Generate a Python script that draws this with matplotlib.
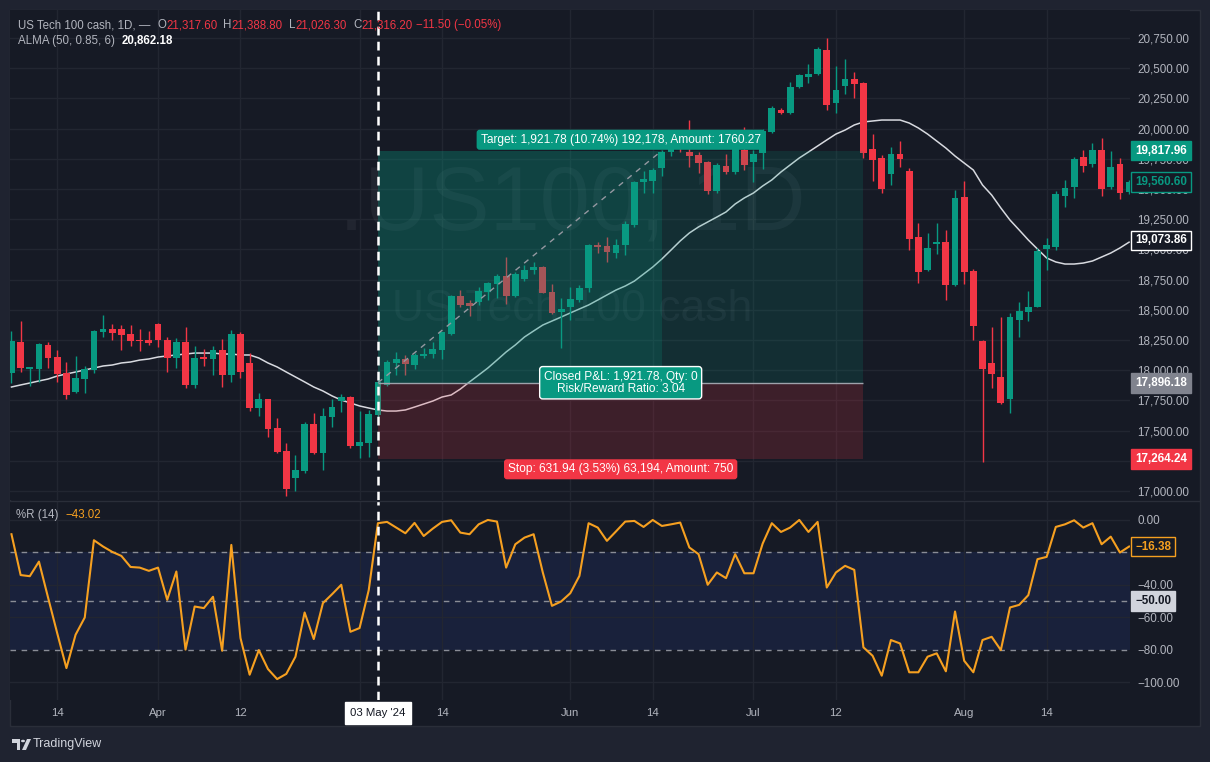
import numpy as np
import matplotlib
matplotlib.use('Agg')
import matplotlib.pyplot as plt
from matplotlib.patches import Rectangle, Polygon, Circle
from matplotlib.lines import Line2D
import matplotlib.transforms as mtransforms

plt.rcParams['font.family'] = ['Liberation Sans', 'DejaVu Sans']

# ---------------- data ----------------
opens = [17977, 18233, 18010, 18010, 18208, 18109, 17977, 17820, 17927, 18002,
         18316, 18341, 18341, 18300, 18250, 18250, 18383, 18250, 18101, 18233,
         17877, 18109, 18093, 18167, 17960, 18300, 18060, 17687, 17762, 17522,
         17331, 17108, 17166, 17555, 17315, 17613, 17745, 17778, 17372, 17397,
         17629, 17877, 18060, 18093, 18043, 18118, 18134, 18167, 18300, 18614,
         18556, 18565, 18647, 18714, 18780, 18614, 18755, 18830, 18854, 18647,
         18482, 18523, 18581, 18680, 19036, 19028, 18970, 19036, 19202, 19558,
         19566, 19674, 19806, 19906, 19806, 19781, 19724, 19483, 19690, 19641,
         19823, 19724, 19798, 19972, 20154, 20129, 20344, 20427, 20452, 20651,
         20212, 20353, 20411, 20378, 19831, 19757, 19624, 19790, 19649, 19103,
         18830, 19045, 19061, 18705, 19434, 18821, 18242, 18060, 17944, 17762,
         18416, 18482, 18523, 19003, 19020, 19442, 19517, 19765, 19707, 19823,
         19517, 19707, 19475]
highs = [18325, 18408, 18030, 18225, 18233, 18167, 18068, 18118, 18035, 18333,
         18457, 18383, 18374, 18374, 18341, 18325, 18390, 18275, 18267, 18358,
         18200, 18175, 18200, 18258, 18333, 18316, 18143, 17811, 17765, 17604,
         17397, 17298, 17571, 17646, 17687, 17762, 17803, 17786, 17662, 17670,
         17919, 18084, 18151, 18126, 18143, 18184, 18233, 18320, 18620, 18664,
         18581, 18689, 18730, 18797, 18937, 18813, 18871, 18896, 18860, 18714,
         18598, 18689, 18705, 19045, 19061, 19102, 19086, 19235, 19566, 19649,
         19674, 19823, 19939, 19939, 20071, 19806, 19730, 19715, 19790, 19906,
         20013, 19823, 19996, 20187, 20170, 20386, 20452, 20535, 20675, 20750,
         20518, 20576, 20469, 20386, 19955, 19781, 19848, 19897, 19674, 19219,
         19136, 19219, 19161, 19492, 19566, 18838, 18250, 18358, 18441, 18474,
         18565, 18656, 19011, 19094, 19483, 19575, 19765, 19823, 19881, 19922,
         19815, 19757, 19575]
lows = [17894, 17985, 17869, 17902, 18019, 17902, 17762, 17811, 17811, 17977,
        18275, 18250, 18167, 18201, 18159, 18208, 18192, 17985, 18019, 17853,
        17853, 18035, 17960, 17861, 17902, 17935, 17662, 17621, 17447, 17315,
        16959, 17000, 17149, 17306, 17174, 17530, 17654, 17356, 17273, 17281,
        17613, 17870, 17960, 17960, 18010, 18101, 18101, 18093, 18292, 18523,
        18449, 18540, 18581, 18598, 18548, 18606, 18738, 18797, 18635, 18466,
        18184, 18416, 18565, 18647, 18970, 18896, 18929, 18953, 19186, 19467,
        19467, 19608, 19773, 19806, 19682, 19633, 19459, 19467, 19624, 19624,
        19657, 19558, 19666, 19964, 20121, 20121, 20336, 20378, 20444, 20154,
        20129, 20286, 20253, 19757, 19566, 19467, 19533, 19682, 18995, 18722,
        18825, 18962, 18581, 18700, 18714, 18250, 17240, 17853, 17720, 17646,
        18275, 18408, 18520, 18830, 18995, 19351, 19426, 19641, 19682, 19442,
        19500, 19417, 19459]
closes = [18242, 18019, 18025, 18217, 18101, 17969, 17795, 17936, 18010, 18325,
          18341, 18308, 18292, 18242, 18242, 18225, 18250, 18101, 18233, 17877,
          18101, 18093, 18167, 17960, 18300, 17985, 17687, 17762, 17513, 17323,
          17017, 17174, 17555, 17315, 17621, 17695, 17778, 17372, 17406, 17637,
          17902, 18068, 18093, 18051, 18126, 18134, 18175, 18316, 18614, 18540,
          18531, 18656, 18722, 18780, 18614, 18797, 18830, 18854, 18639, 18474,
          18507, 18590, 18680, 19036, 19020, 18978, 19036, 19210, 19558, 19583,
          19657, 19806, 19906, 19839, 19773, 19715, 19483, 19699, 19641, 19889,
          19699, 19790, 19980, 20170, 20129, 20344, 20444, 20452, 20659, 20195,
          20320, 20411, 20369, 19798, 19740, 19500, 19790, 19748, 19086, 18813,
          19012, 19061, 18705, 19425, 18813, 18366, 18010, 17969, 17729, 18441,
          18490, 18523, 18987, 19036, 19459, 19508, 19749, 19690, 19823, 19500,
          19682, 19467, 19560]
alma = [17861, 17878, 17894, 17911, 17927, 17952, 17969, 17985, 18002, 18018,
        18035, 18043, 18060, 18068, 18084, 18093, 18109, 18118, 18126, 18134,
        18142, 18142, 18142, 18134, 18134, 18126, 18126, 18101, 18060, 18027,
        17985, 17944, 17903, 17861, 17828, 17787, 17753, 17729, 17704, 17687,
        17671, 17662, 17662, 17671, 17695, 17720, 17745, 17778, 17795, 17844,
        17903, 17960, 18018, 18084, 18151, 18209, 18275, 18325, 18374, 18407,
        18440, 18474, 18507, 18540, 18581, 18623, 18664, 18697, 18738, 18796,
        18854, 18921, 18995, 19070, 19136, 19186, 19227, 19268, 19310, 19376,
        19426, 19467, 19525, 19575, 19641, 19699, 19757, 19806, 19856, 19906,
        19955, 19988, 20030, 20055, 20063, 20071, 20071, 20071, 20046, 20005,
        19955, 19897, 19839, 19773, 19715, 19657, 19533, 19450, 19343, 19243,
        19161, 19078, 19003, 18929, 18896, 18879, 18879, 18887, 18904, 18937,
        18970, 19012, 19060]
willr = [-8.8, -34, -34.7, -25.7, -48, -70, -91.4, -70.8, -60.2, -12.5,
         -16.4, -19.7, -22.2, -29, -29.4, -31.4, -29.4, -49.3, -31.8, -80,
         -53.4, -54.4, -47.4, -80.7, -15.4, -72.9, -95.5, -80.3, -92, -98.2,
         -95, -84.4, -57.1, -73.5, -51.3, -45.8, -40, -69, -66.7, -43.3,
         -2, -1.2, -4.7, -8.2, -1.8, -9.9, -5.3, -1.2, -0.2, -7.8,
         -8.8, -2.7, 0, -1, -29.4, -15, -10.9, -8.8, -32.4, -53,
         -50.3, -45.2, -34.5, -2, -4.7, -12.9, -7, -1, -0.6, -4.3,
         0, -3.7, -2.7, -1.6, -17, -21.1, -40, -32.4, -35.9, -21.1,
         -32.9, -32.9, -14.6, -2, -7.4, -4.7, 0, -7.4, -1.2, -41.7,
         -32.4, -28.3, -30.8, -78.6, -83.8, -96.1, -74.1, -76.2, -94, -94,
         -84.4, -82.3, -93.4, -56.5, -86.9, -94, -74.1, -72.1, -80.3, -54,
         -52.4, -46.4, -24.2, -22.8, -4.3, -2.7, -0.2, -4.7, -2, -15,
         -10.3, -20.1, -16.4]

tick_idx = [5, 16, 25, 47, 61, 70, 81, 90, 104, 113]
tick_labels = ['14', 'Apr', '12', '14', 'Jun', '14', 'Jul', '12', 'Aug', '14']
grid_idx = [5, 16, 25, 38, 47, 61, 70, 81, 90, 104, 113]
cross_idx = 40
cross_label = "03 May '24"
price_ticks = list(range(17000, 20751, 250))
wr_ticks = [0, -20, -40, -60, -80, -100]
wr_tick_labels = ['0.00', '\u221220.00', '\u221240.00', '\u221260.00', '\u221280.00', '\u2212100.00']

entry_price = 17896.18
target_price = 19817.96
stop_price = 17264.24
pos_start, pos_exit, pos_end = 40, 71, 93

# ---------------- style ----------------
W, H = 1210, 762
BG = '#161a25'
FRAME = '#1f2330'
BORDER = '#2a2e39'
GRID = '#222631'
TXT = '#b2b5be'
UP = '#089981'
DN = '#f23645'
ORANGE = '#f6a020'
WHITE = '#ffffff'


def fx(x):
    return x / W


def fy(y):
    return 1 - y / H


fig = plt.figure(figsize=(W / 100, H / 100), dpi=100)
fig.patch.set_facecolor(FRAME)
fig.patches.append(Rectangle((fx(10), fy(726)), 1190 / W, 716 / H, transform=fig.transFigure,
                             facecolor=BG, edgecolor=BORDER, lw=1, zorder=-5))

ax = fig.add_axes([fx(10), fy(500), 1120 / W, 490 / H])
axr = fig.add_axes([fx(10), fy(700), 1120 / W, 199 / H], sharex=ax)
for a in (ax, axr):
    a.set_facecolor(BG)
    a.set_zorder(1)
    for s in a.spines.values():
        s.set_visible(False)

n = len(opens)
idx = np.arange(n)
o = np.array(opens, float)
h = np.array(highs, float)
l = np.array(lows, float)
c = np.array(closes, float)

ax.set_xlim(-0.16, 122.1)
ax.set_ylim(16925.6, 20981.8)
axr.set_ylim(-111.1, 11.7)

# grids
for p in price_ticks:
    ax.axhline(p, color=GRID, lw=1, zorder=0.5)
for g in grid_idx:
    ax.axvline(g, color=GRID, lw=1, zorder=0.5)
    axr.axvline(g, color=GRID, lw=1, zorder=0.5)
for v in [0, -40, -60, -100]:
    axr.axhline(v, color=GRID, lw=1, zorder=0.5)

# watermark
ax.text(0.502, 0.60, '.US100, 1D', transform=ax.transAxes, ha='center', va='center',
        fontsize=65, color=WHITE, alpha=0.05, zorder=0.6)
ax.text(0.502, 0.388, 'US Tech 100 cash', transform=ax.transAxes, ha='center', va='center',
        fontsize=32, color=WHITE, alpha=0.05, zorder=0.6)

# ALMA
ax.plot(idx, alma, color='#d8dae0', lw=1.1, zorder=1.5)

# candles
cols = np.where(c >= o, UP, DN)
ax.vlines(idx, l, h, colors=cols, lw=1, zorder=2)
body_bottom = np.minimum(o, c)
body_h = np.maximum(np.abs(c - o), 7)
ax.bar(idx, body_h, 0.74, body_bottom, color=cols, linewidth=0, zorder=2.1)

# position tool
ax.add_patch(Rectangle((pos_start, entry_price), pos_end - pos_start, target_price - entry_price,
                       facecolor=UP, alpha=0.16, lw=0, zorder=3))
ax.add_patch(Rectangle((pos_start, entry_price), pos_exit - pos_start, target_price - entry_price,
                       facecolor=UP, alpha=0.2, lw=0, zorder=3.1))
ax.add_patch(Rectangle((pos_start, stop_price), pos_end - pos_start, entry_price - stop_price,
                       facecolor=DN, alpha=0.18, lw=0, zorder=3))
ax.hlines(entry_price, pos_start, pos_end, color='#9ea2ab', lw=1, zorder=3.5)
ax.plot([pos_start, pos_exit], [entry_price, target_price], color='#9598a1', lw=1,
        ls=(0, (4, 4)), zorder=3.5)

mid = (pos_start + pos_end) / 2
LBL = 8.6
ax.annotate('Target: 1,921.78 (10.74%) 192,178, Amount: 1760.27', xy=(mid, target_price),
            xytext=(0, 3.5), textcoords='offset points', ha='center', va='bottom',
            fontsize=LBL, color=WHITE, zorder=6,
            bbox=dict(boxstyle='round,pad=0.28,rounding_size=0.2', fc=UP, ec=UP, lw=1))
ax.annotate('Closed P&L: 1,921.78, Qty: 0\nRisk/Reward Ratio: 3.04', xy=(mid, entry_price),
            xytext=(0, 0), textcoords='offset points', ha='center', va='center',
            multialignment='center', fontsize=LBL, color=WHITE, zorder=6, linespacing=1.0,
            bbox=dict(boxstyle='round,pad=0.35,rounding_size=0.25', fc=UP, ec=WHITE, lw=1))
ax.annotate('Stop: 631.94 (3.53%) 63,194, Amount: 750', xy=(mid, stop_price),
            xytext=(0, -3.0), textcoords='offset points', ha='center', va='top',
            fontsize=LBL, color=WHITE, zorder=6,
            bbox=dict(boxstyle='round,pad=0.28,rounding_size=0.2', fc=DN, ec=DN, lw=1))

# Williams %R pane
axr.axhspan(-80, -20, color='#19213b', lw=0, zorder=0.4)
for v in [-20, -50, -80]:
    axr.axhline(v, color='#8a8d96', lw=1, ls=(0, (4, 4)), zorder=1)
axr.plot(idx, willr, color=ORANGE, lw=1.5, zorder=3)

# crosshair
for a in (ax, axr):
    a.axvline(cross_idx, color=WHITE, lw=1.8, ls=(0, (3.5, 2.5)), zorder=7)

# axes ticks
ax.yaxis.tick_right()
ax.set_yticks(price_ticks)
ax.set_yticklabels(['' if p == 17250 else f'{p:,.2f}' for p in price_ticks])
ax.tick_params(axis='y', length=0, pad=5.5, labelsize=8.4, labelcolor=TXT)
ax.tick_params(axis='x', length=0, labelbottom=False)

axr.yaxis.tick_right()
axr.set_yticks(wr_ticks)
axr.set_yticklabels(wr_tick_labels)
axr.tick_params(axis='y', length=0, pad=5.5, labelsize=8.4, labelcolor=TXT)
axr.set_xticks(tick_idx)
axr.set_xticklabels(tick_labels)
axr.tick_params(axis='x', length=0, pad=6, labelsize=8.2, labelcolor=TXT)


# right-scale tags
def tag(a, val, text, fc, ec, tc):
    tr = mtransforms.blended_transform_factory(a.transAxes, a.transData)
    a.text(1.0 + 5 / 1120, val, text, transform=tr, ha='left', va='center', fontsize=8.4,
           weight='bold', color=tc, clip_on=False, zorder=10,
           bbox=dict(boxstyle='square,pad=0.33', fc=fc, ec=ec, lw=1))


tag(ax, target_price, '19,817.96', UP, UP, WHITE)
tag(ax, closes[-1], '19,560.60', BG, UP, UP)
tag(ax, alma[-1] + 14, '19,073.86', BG, WHITE, WHITE)
tag(ax, entry_price, '17,896.18', '#80838e', '#80838e', WHITE)
tag(ax, stop_price, '17,264.24', DN, DN, WHITE)
tag(axr, willr[-1], '\u221216.38', BG, ORANGE, ORANGE)
tag(axr, -50, '\u221250.00', '#d1d4dc', '#d1d4dc', '#131722')

# crosshair time label
axr.text(cross_idx, -0.065, cross_label,
         transform=mtransforms.blended_transform_factory(axr.transData, axr.transAxes),
         ha='center', va='center', fontsize=8.2, color='#131722', zorder=10, clip_on=False,
         bbox=dict(boxstyle='square,pad=0.5', fc=WHITE, ec=WHITE))

# separators
fig.add_artist(Line2D([fx(10), fx(1200)], [fy(500.5)] * 2, color=BORDER, lw=1,
                      transform=fig.transFigure, zorder=5))

# header texts
renderer = fig.canvas.get_renderer()


def seq_text(x, y, pieces, size):
    for txt, col, wt, gap in pieces:
        t = fig.text(fx(x), fy(y), txt, color=col, fontsize=size, weight=wt, ha='left',
                     va='center', zorder=20)
        bb = t.get_window_extent(renderer=renderer)
        x += bb.width + gap


seq_text(18, 25, [('US Tech 100 cash, 1D, \u2014', TXT, 'normal', 7),
                  ('O', TXT, 'normal', 0), ('21,317.60', DN, 'normal', 6),
                  ('H', TXT, 'normal', 0), ('21,388.80', DN, 'normal', 6),
                  ('L', TXT, 'normal', 0), ('21,026.30', DN, 'normal', 6),
                  ('C', TXT, 'normal', 0), ('21,316.20', DN, 'normal', 4),
                  ('\u221211.50 (\u22120.05%)', DN, 'normal', 0)], 8.3)
seq_text(18, 41, [('ALMA (50, 0.85, 6)', TXT, 'normal', 7),
                  ('20,862.18', WHITE, 'bold', 0)], 8.3)
seq_text(16, 515, [('%R (14)', TXT, 'normal', 7),
                   ('\u221243.02', ORANGE, 'normal', 0)], 8.3)

# TradingView logo
LOGO = '#d1d4dc'
fig.patches.append(Polygon([(fx(12), fy(739)), (fx(20), fy(739)), (fx(20), fy(750)), (fx(16.5), fy(750)),
                            (fx(16.5), fy(742.5)), (fx(12), fy(742.5))], closed=True,
                           transform=fig.transFigure, fc=LOGO, ec='none'))
fig.patches.append(Circle((fx(23), fy(741)), 2 / W, transform=fig.transFigure, fc=LOGO, ec='none'))
fig.patches.append(Polygon([(fx(27), fy(739)), (fx(31), fy(739)), (fx(26), fy(750)), (fx(22), fy(750))],
                           closed=True, transform=fig.transFigure, fc=LOGO, ec='none'))
fig.text(fx(33), fy(744.5), 'TradingView', color=LOGO, fontsize=9, ha='left', va='center')

fig.savefig('out.png', dpi=100, facecolor=fig.get_facecolor())
